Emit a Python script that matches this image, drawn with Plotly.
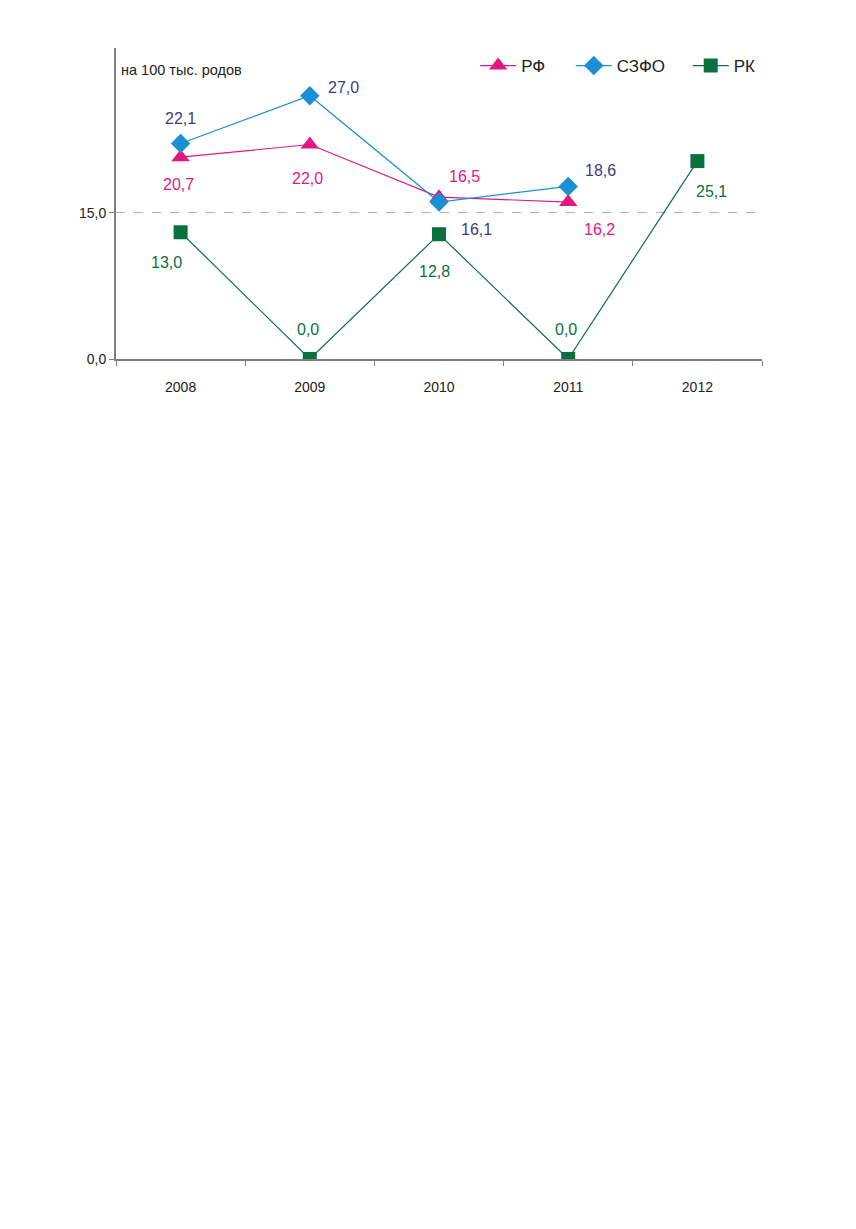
import plotly.graph_objects as go

# --- Data ---
years = ["2008", "2009", "2010", "2011", "2012"]

rf_values = [20.7, 22.0, 16.6, 16.1]
rf_labels = ["20,7", "22,0", "16,5", "16,2"]

szfo_values = [22.1, 27.0, 16.1, 17.7]
szfo_labels = ["22,1", "27,0", "16,1", "18,6"]

rk_values = [13.0, 0.0, 12.8, 0.0, 20.3]
rk_labels = ["13,0", "0,0", "12,8", "0,0", "25,1"]

# --- Styles ---
C_RF = "#e5177f"
C_SZFO = "#1a8fd3"
C_SZFO_TXT = "#3e3a87"
C_RK = "#0a7040"
FONT = "Liberation Sans, Arial, sans-serif"

# label offsets (px) for each point
rf_shift = [(-2, -27), (-2, -34), (25, 21), (31, -27)]
szfo_shift = [(0, 25), (34, 8), (37, -27), (32, 16)]
rk_shift = [(-14, -30), (-2, 30), (-5, -37), (-2, 30), (14, -30)]

fig = go.Figure()

fig.add_trace(go.Scatter(
    x=years[:4], y=rf_values, name="РФ", mode="lines+markers", legend="legend",
    line=dict(color=C_RF, width=1.2),
    marker=dict(symbol="triangle-up", size=16, color=C_RF),
))
fig.add_trace(go.Scatter(
    x=years[:4], y=szfo_values, name="СЗФО", mode="lines+markers", legend="legend2",
    line=dict(color=C_SZFO, width=1.2),
    marker=dict(symbol="diamond", size=15, color=C_SZFO),
))
fig.add_trace(go.Scatter(
    x=years, y=rk_values, name="РК", mode="lines+markers", legend="legend3",
    line=dict(color=C_RK, width=1.2),
    marker=dict(symbol="square", size=14, color=C_RK),
))

annotations = []
for vals, labs, shifts, col in [
    (rf_values, rf_labels, rf_shift, C_RF),
    (szfo_values, szfo_labels, szfo_shift, C_SZFO_TXT),
    (rk_values, rk_labels, rk_shift, C_RK),
]:
    for i, (v, t) in enumerate(zip(vals, labs)):
        annotations.append(dict(
            x=i, y=v, text=t, showarrow=False,
            xshift=shifts[i][0], yshift=shifts[i][1],
            font=dict(size=16, color=col, family=FONT),
        ))

annotations.append(dict(
    x=0.004, y=1.0, xref="paper", yref="paper", xanchor="left", yanchor="top",
    text="на 100 тыс. родов", showarrow=False, yshift=-12,
    font=dict(size=14.5, color="#222", family=FONT),
))

legend_style = dict(
    orientation="h", y=1.0, xanchor="left", yanchor="top", itemwidth=36,
    font=dict(size=17, color="#222", family=FONT),
    bgcolor="rgba(0,0,0,0)",
)

fig.update_layout(
    width=856, height=1229,
    margin=dict(l=108, r=102, t=40, b=878),
    paper_bgcolor="white", plot_bgcolor="white",
    separators=", ",
    font=dict(family=FONT, color="#222"),
    showlegend=True,
    legend=dict(x=0.556, **legend_style),
    legend2=dict(x=0.704, **legend_style),
    legend3=dict(x=0.885, **legend_style),
    annotations=annotations,
    xaxis=dict(
        type="category", range=[-0.5, 4.5], tickson="boundaries",
        ticks="outside", ticklen=5, tickcolor="#808080",
        ticklabelstandoff=14,
        showline=True, linecolor="#808080", linewidth=2,
        showgrid=False, tickfont=dict(size=14, color="#222"),
    ),
    yaxis=dict(
        range=[0, 31.9], tickvals=[0, 15], tickformat=".1f",
        ticks="outside", ticklen=5, tickcolor="#808080",
        showline=True, linecolor="#808080", linewidth=2,
        showgrid=True, gridcolor="#b0b0b0", griddash="dash", gridwidth=1,
        zeroline=False, tickfont=dict(size=14, color="#222"),
    ),
)

fig.write_html("out.html")
